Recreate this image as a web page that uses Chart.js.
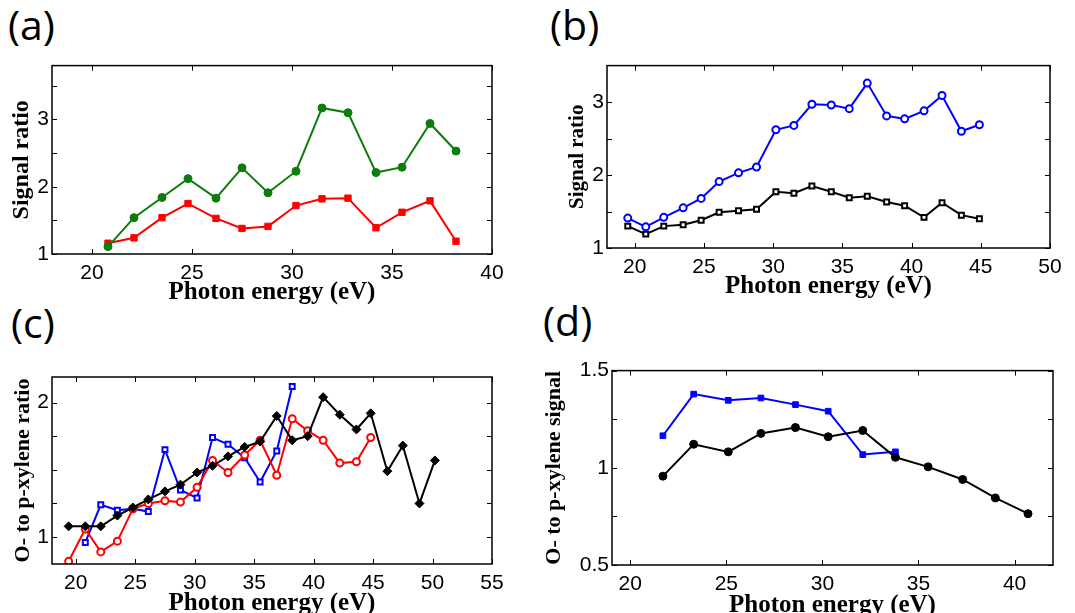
<!DOCTYPE html>
<html>
<head>
<meta charset="utf-8">
<script src="https://cdn.jsdelivr.net/npm/chart.js@4"></script>
<style>
  body { margin: 0; background: #fff; }
  #page { position: relative; width: 1075px; height: 613px; overflow: hidden; }
  canvas { position: absolute; }
  .tag { position: absolute; font-family: "Open Sans", sans-serif; font-size: 41px; line-height: 1; color: #000; }
</style>
</head>
<body>
<div id="page">
  <div class="tag" style="left:8px;top:4px">(a)</div>
  <div class="tag" style="left:550px;top:4px">(b)</div>
  <div class="tag" style="left:11px;top:302px">(c)</div>
  <div class="tag" style="left:543px;top:300px">(d)</div>
  <canvas id="chartA"></canvas>
  <canvas id="chartB"></canvas>
  <canvas id="chartC"></canvas>
  <canvas id="chartD"></canvas>
</div>
<script>
// (a) signal ratio
const energyA = [20.8, 22.1, 23.5, 24.8, 26.2, 27.5, 28.8, 30.2, 31.5, 32.8, 34.2, 35.5, 36.9, 38.2];
const greenA = [1.11, 1.54, 1.84, 2.12, 1.83, 2.28, 1.91, 2.23, 3.17, 3.10, 2.21, 2.29, 2.94, 2.53];
const redA = [1.16, 1.24, 1.54, 1.75, 1.53, 1.38, 1.41, 1.72, 1.82, 1.83, 1.39, 1.62, 1.79, 1.19];
const xTicksA = [20, 25, 30, 35, 40];
const yTicksA = [1, 1.5, 2, 2.5, 3, 3.5];

// (b) signal ratio
const energyB = [19.5, 20.8, 22.1, 23.5, 24.8, 26.1, 27.5, 28.8, 30.2, 31.5, 32.8, 34.2, 35.5, 36.8, 38.2, 39.5, 40.9, 42.2, 43.6, 44.9];
const blueB = [1.41, 1.29, 1.42, 1.55, 1.68, 1.91, 2.03, 2.11, 2.62, 2.68, 2.97, 2.96, 2.91, 3.26, 2.81, 2.77, 2.88, 3.09, 2.60, 2.69];
const blackB = [1.30, 1.19, 1.30, 1.32, 1.38, 1.49, 1.51, 1.53, 1.77, 1.75, 1.85, 1.77, 1.69, 1.71, 1.63, 1.58, 1.42, 1.62, 1.45, 1.40];
const xTicksB = [20, 25, 30, 35, 40, 45, 50];
const yTicksB = [1, 1.5, 2, 2.5, 3];

// (c) O- to p-xylene ratio
const energyC = [19.4, 20.8, 22.1, 23.5, 24.8, 26.1, 27.5, 28.8, 30.2, 31.5, 32.8, 34.2, 35.5, 36.9, 38.2, 39.5, 40.8, 42.2, 43.6, 44.8, 46.2, 47.5, 48.9, 50.2];
const blackC = [1.08, 1.08, 1.08, 1.16, 1.22, 1.28, 1.34, 1.39, 1.48, 1.53, 1.60, 1.67, 1.71, 1.90, 1.72, 1.75, 2.04, 1.91, 1.80, 1.92, 1.49, 1.68, 1.25, 1.57];
const redC = [0.82, 1.06, 0.89, 0.97, 1.21, 1.25, 1.27, 1.26, 1.37, 1.57, 1.48, 1.61, 1.72, 1.46, 1.88, 1.79, 1.72, 1.55, 1.56, 1.74];
const energyBlueC = [20.8, 22.1, 23.5, 24.8, 26.1, 27.5, 28.8, 30.2, 31.5, 32.8, 34.2, 35.5, 36.9, 38.2];
const blueC = [0.96, 1.24, 1.20, 1.21, 1.19, 1.65, 1.35, 1.29, 1.74, 1.69, 1.59, 1.41, 1.64, 2.12];
const xTicksC = [20, 25, 30, 35, 40, 45, 50, 55];
const yTicksC = [1, 1.25, 1.5, 1.75, 2];

// (d) O- to p-xylene signal
const energyD = [21.7, 23.3, 25.1, 26.8, 28.6, 30.3, 32.1, 33.8, 35.5, 37.3, 39.0, 40.7];
const blackD = [0.957, 1.121, 1.082, 1.177, 1.207, 1.160, 1.192, 1.054, 1.005, 0.940, 0.845, 0.764];
const blueD = [1.165, 1.379, 1.347, 1.359, 1.325, 1.291, 1.068, 1.082];
const xTicksD = [20, 25, 30, 35, 40];
const yTicksD = [0.5, 0.75, 1, 1.25, 1.5];

const tickFont = { family: 'Liberation Sans, Arial, sans-serif', size: 21 };
const titleFamily = 'Liberation Serif, Times New Roman, serif';

// matlab style box with inward ticks on all sides
const boxPlugin = {
    id: 'box',
    afterDraw(chart) {
        const ctx = chart.ctx;
        const a = chart.chartArea;
        const len = 5;
        ctx.save();
        ctx.strokeStyle = '#000';
        ctx.lineWidth = 1;
        chart.scales.x.ticks.forEach(t => {
            const px = Math.round(chart.scales.x.getPixelForValue(t.value)) + 0.5;
            ctx.beginPath();
            ctx.moveTo(px, a.bottom); ctx.lineTo(px, a.bottom - len);
            ctx.moveTo(px, a.top); ctx.lineTo(px, a.top + len);
            ctx.stroke();
        });
        chart.scales.y.ticks.forEach(t => {
            const py = Math.round(chart.scales.y.getPixelForValue(t.value)) + 0.5;
            ctx.beginPath();
            ctx.moveTo(a.left, py); ctx.lineTo(a.left + len, py);
            ctx.moveTo(a.right, py); ctx.lineTo(a.right - len, py);
            ctx.stroke();
        });
        ctx.lineWidth = 1.5;
        ctx.strokeRect(a.left, a.top, a.right - a.left, a.bottom - a.top);
        ctx.restore();
    }
};

function series(xs, ys, color, style, filled, radius) {
    return {
        data: ys.map((y, i) => ({ x: xs[i], y: y })),
        borderColor: color,
        backgroundColor: filled ? color : '#fff',
        borderWidth: 2,
        pointStyle: style,
        pointRadius: radius,
        pointBorderWidth: filled ? 1 : 2,
        pointBackgroundColor: filled ? color : '#fff',
        pointBorderColor: color,
        tension: 0
    };
}

function makeChart(id, box, area, cfg) {
    const cv = document.getElementById(id);
    cv.style.left = box.left + 'px';
    cv.style.top = box.top + 'px';
    cv.style.width = box.width + 'px';
    cv.style.height = box.height + 'px';
    cv.width = box.width;
    cv.height = box.height;
    return new Chart(cv, {
        type: 'line',
        data: { datasets: cfg.datasets },
        options: {
            responsive: false,
            animation: false,
            layout: {
                padding: {
                    left: 0, bottom: 0,
                    top: area.top - box.top,
                    right: box.left + box.width - area.right
                }
            },
            plugins: { legend: { display: false }, tooltip: { enabled: false } },
            scales: {
                x: {
                    type: 'linear',
                    min: cfg.xMin, max: cfg.xMax,
                    afterFit: s => { s.height = box.top + box.height - area.bottom; },
                    afterBuildTicks: s => { s.ticks = cfg.xTicks.map(v => ({ value: v })); },
                    grid: { display: false, drawTicks: false },
                    border: { display: false },
                    ticks: { font: tickFont, color: '#000', padding: 7, autoSkip: false, maxRotation: 0 },
                    title: {
                        display: true, text: 'Photon energy (eV)', color: '#000',
                        font: { family: titleFamily, size: 25, weight: 'bold' },
                        padding: { top: 0, bottom: cfg.xTitlePad }
                    }
                },
                y: {
                    min: cfg.yMin, max: cfg.yMax,
                    afterFit: s => { s.width = area.left - box.left; },
                    afterBuildTicks: s => { s.ticks = cfg.yTicks.map(v => ({ value: v })); },
                    grid: { display: false, drawTicks: false },
                    border: { display: false },
                    ticks: {
                        font: tickFont, color: '#000', padding: 3, autoSkip: false,
                        callback: cfg.yLabel
                    },
                    title: {
                        display: true, text: cfg.yTitle, color: '#000',
                        font: { family: titleFamily, size: cfg.yTitleSize, weight: 'bold' },
                        padding: { top: cfg.yTitlePad, bottom: 0 }
                    }
                }
            }
        },
        plugins: [boxPlugin]
    });
}

const intOnly = v => Number.isInteger(v) ? v : '';

makeChart('chartA', { left: 0, top: 50, width: 537, height: 258 }, { left: 52, top: 58, right: 492, bottom: 254 }, {
    datasets: [
        series(energyA, greenA, '#0a7d0a', 'circle', true, 4),
        series(energyA, redA, '#ff0000', 'rect', true, 4.5)
    ],
    xMin: 18, xMax: 40, xTicks: xTicksA,
    yMin: 1, yMax: 3.8, yTicks: yTicksA, yLabel: intOnly,
    yTitle: 'Signal ratio', yTitleSize: 24, yTitlePad: 7, xTitlePad: 0
});

makeChart('chartB', { left: 540, top: 50, width: 535, height: 252 }, { left: 607, top: 60, right: 1050, bottom: 248 }, {
    datasets: [
        series(energyB, blueB, '#0000ff', 'circle', false, 3.5),
        series(energyB, blackB, '#000000', 'rect', false, 3.5)
    ],
    xMin: 18, xMax: 50, xTicks: xTicksB,
    yMin: 1, yMax: 3.5, yTicks: yTicksB, yLabel: intOnly,
    yTitle: 'Signal ratio', yTitleSize: 21, yTitlePad: 25, xTitlePad: 0
});

makeChart('chartC', { left: 0, top: 360, width: 537, height: 253 }, { left: 52, top: 377, right: 492, bottom: 564 }, {
    datasets: [
        series(energyC, blackC, '#000000', 'rectRot', true, 4.5),
        series(energyC.slice(0, redC.length), redC, '#ff0000', 'circle', false, 3.5),
        series(energyBlueC, blueC, '#0000ff', 'rect', false, 3.5)
    ],
    xMin: 18, xMax: 55, xTicks: xTicksC,
    yMin: 0.8, yMax: 2.19, yTicks: yTicksC, yLabel: intOnly,
    yTitle: 'O- to p-xylene ratio', yTitleSize: 22, yTitlePad: 10, xTitlePad: -6
});

makeChart('chartD', { left: 540, top: 355, width: 535, height: 258 }, { left: 612, top: 369, right: 1053, bottom: 565 }, {
    datasets: [
        series(energyD, blackD, '#000000', 'circle', true, 4),
        series(energyD.slice(0, blueD.length), blueD, '#0000ff', 'rect', true, 4)
    ],
    xMin: 19.05, xMax: 42, xTicks: xTicksD,
    yMin: 0.5, yMax: 1.5, yTicks: yTicksD,
    yLabel: v => (v === 0.5 || v === 1 || v === 1.5) ? v : '',
    yTitle: 'O- to p-xylene signal', yTitleSize: 22, yTitlePad: 1, xTitlePad: -8
});
</script>
</body>
</html>
